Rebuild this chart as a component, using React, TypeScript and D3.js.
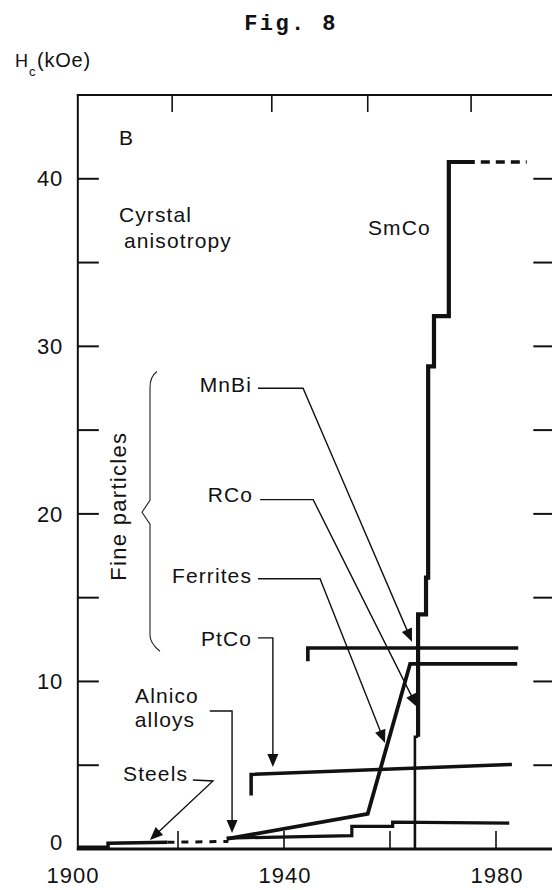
import React from "react";
import * as d3 from "d3";

// ---- data (year, coercivity kOe) ----
const steelsYears = [1901, 1906.8, 1906.8, 1918];
const steelsHc = [0.1, 0.1, 0.35, 0.4];
const steelsProjYears = [1918, 1929.5];
const steelsProjHc = [0.4, 0.45];

const alnicoYears = [1929.2, 1952.8, 1952.8, 1960.5, 1960.5, 1982.5];
const alnicoHc = [0.65, 0.8, 1.35, 1.35, 1.6, 1.55];

const ptcoYears = [1933.8, 1933.8, 1983];
const ptcoHc = [3.2, 4.45, 5.05];

const ferritesYears = [1929.2, 1955.8, 1963.8, 1984];
const ferritesHc = [0.6, 2.1, 11.05, 11.05];

const mnbiYears = [1944.5, 1944.5, 1984.2];
const mnbiHc = [11.2, 12.0, 12.0];

const rcoYears = [1964.7, 1964.7, 1965.3];
const rcoHc = [0, 6.7, 6.7];

const smcoYears = [1965.3, 1965.3, 1966.8, 1966.8, 1967.2, 1967.2, 1968.3, 1968.3, 1971.1, 1971.1, 1976.0];
const smcoHc = [6.7, 14.0, 14.0, 16.2, 16.2, 28.8, 28.8, 31.8, 31.8, 41.0, 41.0];
const smcoProjYears = [1976.0, 1985.8];
const smcoProjHc = [41, 41];

// axis ticks
const yTickValues = [5, 10, 15, 20, 25, 30, 35, 40];
const yLabelValues = [0, 10, 20, 30, 40];
const xLabelValues = [1900, 1940, 1980];
const xBottomTicks = [1920, 1940, 1960, 1980];
const xTopTicks = [1918.9, 1937.7, 1955.8, 1975.3];

// leader lines (year, kOe)
const leaderMnBi = [[1935.1, 27.5], [1943.6, 27.5], [1964.15, 12.37]];
const leaderRCo = [[1935.5, 20.85], [1945.5, 20.85], [1965.1, 8.48]];
const leaderFerrites = [[1935.1, 16.13], [1946.8, 16.13], [1959.06, 6.33]];
const leaderPtCo = [[1935.1, 12.6], [1937.9, 12.6], [1937.9, 4.9]];
const leaderAlnico = [[1926.0, 8.24], [1930.2, 8.24], [1930.2, 0.96]];
const leaderSteels = [[1922.8, 4.12], [1926.6, 4.06], [1914.7, 0.54]];

const x = d3.scaleLinear().domain([1900, 1990]).range([72, 549]);
const y = d3.scaleLinear().domain([0, 45]).range([849, 95]);

const zip = (a: number[], b: number[]) => a.map((v, i) => [v, b[i]] as [number, number]);
const line = d3
  .line<[number, number]>()
  .x((d) => x(d[0]))
  .y((d) => y(d[1]));

const FONT = "'Liberation Sans', Arial, Helvetica, sans-serif";

function Leader({ pts }: { pts: number[][] }) {
  const p = pts.map((d) => [x(d[0]), y(d[1])] as [number, number]);
  const n = p.length;
  const [tx, ty] = p[n - 1];
  const [sx, sy] = p[n - 2];
  const dx = tx - sx;
  const dy = ty - sy;
  const len = Math.hypot(dx, dy);
  const ux = dx / len;
  const uy = dy / len;
  const L = 13;
  const W = 5.5;
  const bx = tx - ux * L;
  const by = ty - uy * L;
  const tri = `${tx},${ty} ${bx - uy * W},${by + ux * W} ${bx + uy * W},${by - ux * W}`;
  const shaft = p.slice(0, n - 1).concat([[bx + ux * 2, by + uy * 2]]);
  return (
    <g>
      <path d={d3.line()(shaft) || ""} fill="none" stroke="#111" strokeWidth={1.4} />
      <polygon points={tri} fill="#111" />
    </g>
  );
}

export default function App() {
  const fx0 = x(1901.1);
  const fx1 = x(1991);
  const top = y(45);
  const bottom = y(0);
  const braceX = 150;
  const braceTop = y(28.5);
  const braceMid = y(20.1);
  const braceBot = y(11.8);
  const brace = `M${braceX + 7},${braceTop} Q${braceX},${braceTop + 5} ${braceX},${braceTop + 16} L${braceX},${braceMid - 12} L${braceX - 8},${braceMid} L${braceX},${braceMid + 12} L${braceX},${braceBot - 16} Q${braceX},${braceBot - 8} ${braceX + 10},${braceBot}`;

  const textStyle = { fontFamily: FONT, fontSize: 21, letterSpacing: 1.1, fill: "#111" } as const;

  return (
    <svg
      width={552}
      height={890}
      style={{ position: "absolute", left: 0, top: 0, background: "#fff" }}
    >
      <rect x={0} y={0} width={552} height={890} fill="#fff" />
      {/* Title */}
      <text
        x={291}
        y={30}
        textAnchor="middle"
        style={{ fontFamily: "'Liberation Mono', 'DejaVu Sans Mono', monospace", fontSize: 22, fontWeight: 700, letterSpacing: 2.4, fill: "#111" }}
      >
        Fig. 8
      </text>
      {/* Y axis title */}
      <text x={15} y={67} style={{ ...textStyle, fontSize: 18, letterSpacing: 0 }}>H</text>
      <text x={29} y={76} style={{ ...textStyle, fontSize: 13, letterSpacing: 0 }}>c</text>
      <text x={37} y={67} style={{ ...textStyle, fontSize: 20, letterSpacing: 0.8 }}>(kOe)</text>

      {/* frame */}
      <line x1={fx0} x2={fx0} y1={top} y2={bottom + 1} stroke="#111" strokeWidth={2} />
      <line x1={fx1} x2={fx1} y1={top} y2={bottom + 1} stroke="#111" strokeWidth={2} />
      <line x1={fx0 - 1} x2={fx1} y1={top} y2={top} stroke="#111" strokeWidth={2} />
      <line x1={fx0 - 1} x2={fx1} y1={bottom} y2={bottom} stroke="#111" strokeWidth={3} />

      {/* y ticks */}
      {yTickValues.map((v) => (
        <g key={"yt" + v}>
          <line x1={fx0} x2={fx0 + 21} y1={y(v)} y2={y(v)} stroke="#111" strokeWidth={2} />
          <line x1={fx1} x2={fx1 - 21} y1={y(v)} y2={y(v)} stroke="#111" strokeWidth={2} />
        </g>
      ))}
      {yLabelValues.map((v) => (
        <text
          key={"yl" + v}
          x={63}
          y={Math.min(y(v), y(0) - 7)}
          dy="0.35em"
          textAnchor="end"
          style={{ ...textStyle, fontSize: 22, letterSpacing: 0.8 }}
        >
          {v}
        </text>
      ))}
      {/* x ticks */}
      {xBottomTicks.map((v) => (
        <line key={"xb" + v} x1={x(v)} x2={x(v)} y1={bottom} y2={bottom - 18} stroke="#111" strokeWidth={1.6} />
      ))}
      {xTopTicks.map((v) => (
        <line key={"xt" + v} x1={x(v)} x2={x(v)} y1={top} y2={top + 17} stroke="#111" strokeWidth={1.6} />
      ))}
      {xLabelValues.map((v) => (
        <text
          key={"xl" + v}
          x={x(v) + 1}
          y={883}
          textAnchor="middle"
          style={{ ...textStyle, fontSize: 22, letterSpacing: 1 }}
        >
          {v}
        </text>
      ))}

      {/* data lines */}
      <path d={line(zip(steelsYears, steelsHc)) || ""} fill="none" stroke="#111" strokeWidth={3.5} />
      <path d={line(zip(steelsProjYears, steelsProjHc)) || ""} fill="none" stroke="#111" strokeWidth={3} strokeDasharray="7 7" />
      <path d={line(zip(alnicoYears, alnicoHc)) || ""} fill="none" stroke="#111" strokeWidth={3.2} />
      <path d={line(zip(ptcoYears, ptcoHc)) || ""} fill="none" stroke="#111" strokeWidth={3.5} />
      <path d={line(zip(ferritesYears, ferritesHc)) || ""} fill="none" stroke="#111" strokeWidth={3.8} strokeLinejoin="miter" />
      <path d={line(zip(mnbiYears, mnbiHc)) || ""} fill="none" stroke="#111" strokeWidth={3.6} />
      <path d={line(zip(rcoYears, rcoHc)) || ""} fill="none" stroke="#111" strokeWidth={2.6} />
      <path d={line(zip(smcoYears, smcoHc)) || ""} fill="none" stroke="#111" strokeWidth={4.2} />
      <path
        d={line(zip(smcoProjYears, smcoProjHc)) || ""}
        fill="none"
        stroke="#111"
        strokeWidth={3.6}
        strokeDasharray="9 6"
        strokeDashoffset={9}
      />

      {/* leaders */}
      <Leader pts={leaderMnBi} />
      <Leader pts={leaderRCo} />
      <Leader pts={leaderFerrites} />
      <Leader pts={leaderPtCo} />
      <Leader pts={leaderAlnico} />
      <Leader pts={leaderSteels} />

      {/* annotations */}
      <text x={119} y={145} style={{ ...textStyle, fontSize: 21 }}>B</text>
      <text x={119} y={222} style={textStyle}>Cyrstal</text>
      <text x={124} y={248} style={textStyle}>anisotropy</text>
      <text x={368} y={235} style={textStyle}>SmCo</text>
      <text x={252} y={392} textAnchor="end" style={textStyle}>MnBi</text>
      <text x={253} y={502} textAnchor="end" style={textStyle}>RCo</text>
      <text x={252} y={583} textAnchor="end" style={textStyle}>Ferrites</text>
      <text x={252} y={646} textAnchor="end" style={textStyle}>PtCo</text>
      <text x={167} y={703} textAnchor="middle" style={textStyle}>Alnico</text>
      <text x={165} y={727} textAnchor="middle" style={textStyle}>alloys</text>
      <text x={188} y={781} textAnchor="end" style={textStyle}>Steels</text>

      {/* fine particles brace */}
      <path d={brace} fill="none" stroke="#222" strokeWidth={1.1} />
      <text
        transform={`translate(126, ${braceMid - 6}) rotate(-90)`}
        textAnchor="middle"
        style={{ ...textStyle, fontSize: 22, letterSpacing: 1.3 }}
      >
        Fine particles
      </text>
    </svg>
  );
}
